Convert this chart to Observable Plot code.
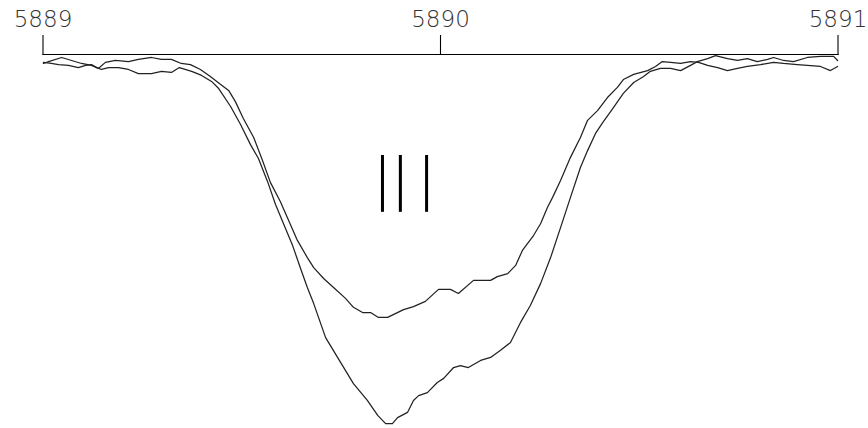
<!DOCTYPE html>
<html>
<head>
<meta charset="utf-8">
<script src="https://cdn.jsdelivr.net/npm/d3@7"></script>
<script src="https://cdn.jsdelivr.net/npm/@observablehq/plot@0.6"></script>
<style>
  html, body { margin: 0; padding: 0; background: #fff; }
  #chart { width: 868px; height: 428px; }
</style>
</head>
<body>
<div id="chart"></div>
<script>
// Tick labels on the top wavelength axis (Å)
const xTicks = [5889, 5890, 5891];

// Spectrum 1 (shallower profile): wavelength (Å) and relative flux
const shallowWl = [5889.001, 5889.014, 5889.047, 5889.072, 5889.097, 5889.122, 5889.140, 5889.157, 5889.182, 5889.215,
  5889.240, 5889.273, 5889.298, 5889.323, 5889.348, 5889.371, 5889.396, 5889.421, 5889.447, 5889.467,
  5889.484, 5889.504, 5889.530, 5889.552, 5889.572, 5889.597, 5889.618, 5889.640, 5889.665, 5889.681,
  5889.706, 5889.731, 5889.761, 5889.781, 5889.804, 5889.824, 5889.844, 5889.867, 5889.907, 5889.932,
  5889.962, 5889.995, 5890.025, 5890.045, 5890.083, 5890.126, 5890.143, 5890.169, 5890.189, 5890.206,
  5890.234, 5890.252, 5890.269, 5890.282, 5890.302, 5890.327, 5890.352, 5890.370, 5890.395, 5890.420,
  5890.445, 5890.460, 5890.486, 5890.521, 5890.541, 5890.558, 5890.579, 5890.604, 5890.629, 5890.649,
  5890.672, 5890.697, 5890.722, 5890.747, 5890.772, 5890.805, 5890.838, 5890.863, 5890.898, 5890.923,
  5890.956, 5890.981, 5890.999];
const shallowFlux = [0.976, 0.981, 0.992, 0.984, 0.976, 0.971, 0.963, 0.979, 0.984, 0.981,
  0.987, 0.992, 0.987, 0.987, 0.976, 0.973, 0.960, 0.941, 0.920, 0.904,
  0.874, 0.829, 0.778, 0.717, 0.658, 0.607, 0.556, 0.503, 0.457, 0.430,
  0.401, 0.377, 0.348, 0.324, 0.310, 0.310, 0.297, 0.297, 0.318, 0.326,
  0.340, 0.372, 0.372, 0.361, 0.396, 0.396, 0.406, 0.414, 0.436, 0.476,
  0.516, 0.548, 0.591, 0.618, 0.663, 0.725, 0.778, 0.824, 0.850, 0.885,
  0.912, 0.933, 0.947, 0.957, 0.968, 0.981, 0.979, 0.976, 0.981, 0.979,
  0.971, 0.965, 0.957, 0.963, 0.968, 0.973, 0.979, 0.976, 0.973, 0.971,
  0.968, 0.957, 0.968];

// Spectrum 2 (deeper profile): wavelength (Å) and relative flux
const deepWl = [5889.001, 5889.021, 5889.039, 5889.064, 5889.089, 5889.107, 5889.122, 5889.135, 5889.147, 5889.165,
  5889.190, 5889.215, 5889.240, 5889.273, 5889.298, 5889.323, 5889.343, 5889.374, 5889.399, 5889.424,
  5889.442, 5889.472, 5889.497, 5889.522, 5889.542, 5889.565, 5889.585, 5889.608, 5889.628, 5889.648,
  5889.665, 5889.681, 5889.711, 5889.741, 5889.781, 5889.816, 5889.842, 5889.862, 5889.879, 5889.892,
  5889.917, 5889.932, 5889.945, 5889.967, 5889.992, 5890.008, 5890.033, 5890.050, 5890.070, 5890.101,
  5890.126, 5890.151, 5890.176, 5890.201, 5890.226, 5890.252, 5890.277, 5890.302, 5890.327, 5890.352,
  5890.370, 5890.390, 5890.408, 5890.435, 5890.460, 5890.486, 5890.511, 5890.528, 5890.553, 5890.579,
  5890.604, 5890.629, 5890.646, 5890.672, 5890.692, 5890.722, 5890.747, 5890.772, 5890.797, 5890.823,
  5890.838, 5890.863, 5890.888, 5890.923, 5890.956, 5890.989, 5890.999];
const deepFlux = [0.979, 0.976, 0.973, 0.971, 0.965, 0.971, 0.973, 0.965, 0.960, 0.965,
  0.965, 0.960, 0.949, 0.949, 0.955, 0.952, 0.965, 0.955, 0.944, 0.928,
  0.909, 0.861, 0.813, 0.759, 0.722, 0.660, 0.599, 0.540, 0.489, 0.428,
  0.377, 0.334, 0.243, 0.190, 0.120, 0.075, 0.035, 0.013, 0.013, 0.029,
  0.043, 0.075, 0.088, 0.096, 0.123, 0.134, 0.163, 0.168, 0.163, 0.182,
  0.190, 0.209, 0.230, 0.283, 0.329, 0.388, 0.457, 0.537, 0.618, 0.698,
  0.743, 0.789, 0.818, 0.858, 0.896, 0.925, 0.941, 0.955, 0.963, 0.963,
  0.957, 0.971, 0.981, 0.989, 0.997, 0.989, 0.984, 0.989, 0.981, 0.987,
  0.992, 0.984, 0.981, 0.992, 0.995, 0.995, 0.984];

// Component marker positions (Å) and their flux extent
const markerWl = [5889.854, 5889.899, 5889.965];
const markerTop = 0.730;
const markerBottom = 0.578;

const shallow = shallowWl.map((w, i) => ({wl: w, flux: shallowFlux[i]}));
const deep = deepWl.map((w, i) => ({wl: w, flux: deepFlux[i]}));
const markers = markerWl.map(w => ({wl: w, y1: markerBottom, y2: markerTop}));

const chart = Plot.plot({
  width: 868,
  height: 428,
  marginLeft: 42.5,
  marginRight: 30.5,
  marginTop: 54,
  marginBottom: 0,
  style: {fontFamily: "DejaVu Sans", fontSize: "23px", fontWeight: 200, color: "#000", background: "#fff"},
  x: {domain: [5889, 5891]},
  y: {domain: [0, 1], axis: null},
  marks: [
    Plot.frame({anchor: "top", stroke: "#000", strokeWidth: 1.2}),
    Plot.axisX({anchor: "top", ticks: xTicks, tickSize: 20, tickPadding: 8,
      tickFormat: d => String(d), label: null, stroke: "#000", strokeWidth: 1.1, fill: "#333"}),
    Plot.line(shallow, {x: "wl", y: "flux", stroke: "#222", strokeWidth: 1.25}),
    Plot.line(deep, {x: "wl", y: "flux", stroke: "#222", strokeWidth: 1.25}),
    Plot.ruleX(markers, {x: "wl", y1: "y1", y2: "y2", stroke: "#000", strokeWidth: 3})
  ]
});
document.getElementById("chart").appendChild(chart);
</script>
</body>
</html>
